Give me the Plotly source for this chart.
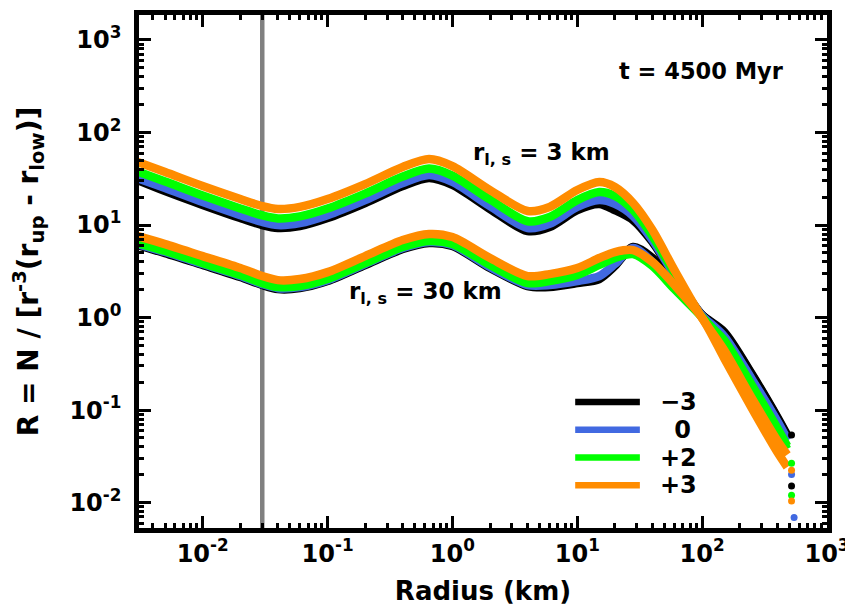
import plotly.graph_objects as go

# ---------------- data ----------------
radius_km = [0.003, 0.005, 0.01, 0.02, 0.03, 0.04, 0.06, 0.1, 0.2, 0.4, 0.65, 1, 2, 4, 6,
             10, 15, 20, 28, 40, 60, 100, 150, 250, 400, 480]

# r_l,s = 3 km group
r3_m3 = [30.7, 23.3, 16.5, 11.9, 10.0, 9.29, 9.75, 11.9, 17.3, 26.4, 32.2, 27.1, 14.9, 8.61, 9.51,
         14.5, 16.9, 14.5, 11.3, 6.55, 2.81, 1.06, 0.68, 0.24, 0.082, 0.052]
r3_0 = [32.2, 25.1, 17.7, 12.8, 10.8, 10.0, 10.5, 12.8, 18.6, 28.4, 34.7, 29.2, 16.0, 9.29, 10.3,
        15.7, 18.6, 16.9, 12.5, 6.88, 2.88, 1.04, 0.615, 0.21, 0.074, 0.047]
r3_p2 = [37.9, 29.5, 20.8, 15.1, 12.7, 11.8, 12.4, 15.1, 21.9, 33.4, 40.8, 34.3, 18.9, 11.0, 12.2,
         18.6, 22.7, 20.6, 14.5, 7.6, 3.03, 1.0, 0.57, 0.186, 0.064, 0.041]
r3_p3 = [48.0, 37.4, 26.4, 19.1, 16.0, 14.9, 15.7, 19.1, 27.7, 42.4, 51.7, 43.4, 23.9, 14.2, 15.7,
         23.9, 29.2, 25.8, 17.3, 8.83, 3.26, 0.99, 0.445, 0.135, 0.047, 0.033]

# r_l,s = 30 km group
r30_m3 = [6.08, 4.98, 3.70, 2.74, 2.25, 2.03, 2.08, 2.48, 3.70, 5.50, 6.39, 5.93, 3.43, 2.19, 2.14,
          2.36, 2.61, 3.61, 5.78, 4.40, 2.25, 1.06, 0.70, 0.245, 0.084, 0.0537]
r30_0 = [6.23, 5.11, 3.79, 2.81, 2.30, 2.08, 2.14, 2.54, 3.79, 5.64, 6.55, 6.08, 3.52, 2.25, 2.25,
         2.48, 2.81, 3.79, 5.64, 3.98, 2.08, 1.04, 0.63, 0.216, 0.076, 0.0486]
r30_p2 = [6.39, 5.24, 3.88, 2.88, 2.36, 2.14, 2.19, 2.61, 3.88, 5.78, 6.71, 6.23, 3.70, 2.36, 2.48,
          2.88, 3.70, 4.40, 4.86, 3.61, 2.03, 1.01, 0.54, 0.173, 0.059, 0.038]
r30_p3 = [7.60, 6.23, 4.62, 3.43, 2.81, 2.54, 2.61, 3.10, 4.62, 6.88, 8.00, 7.41, 4.40, 2.81, 2.95,
          3.43, 4.40, 5.11, 5.37, 3.98, 2.25, 0.99, 0.365, 0.105, 0.0352, 0.0242]

# isolated final points of each curve
end_radius_km = [520, 520, 520, 520]
end_r3 = [0.0151, 0.0202, 0.0120, 0.0104]      # -3, 0, +2, +3
end_radius30_km = [520, 545, 520, 520]
end_r30 = [0.054, 0.0069, 0.0267, 0.0224]

legend_labels = ["\u22123", "\u00a00", "+2", "+3"]
series_colors = ["#000000", "#4169E1", "#00FF00", "#FF8C00"]

cut_radius_km = 0.03

x_tick_vals = [0.01, 0.1, 1, 10, 100, 1000]
x_tick_text = ["10<sup>-2</sup>", "10<sup>-1</sup>", "10<sup>0</sup>", "10<sup>1</sup>",
               "10<sup>2</sup>", "10<sup>3</sup>"]
y_tick_vals = [0.01, 0.1, 1, 10, 100, 1000]
y_tick_text = ["10<sup>-2</sup>", "10<sup>-1</sup>", "10<sup>0</sup>", "10<sup>1</sup>",
               "10<sup>2</sup>", "10<sup>3</sup>"]

# ---------------- figure ----------------
FONT = "DejaVu Sans"
fig = go.Figure()

group3 = [r3_m3, r3_0, r3_p2, r3_p3]
group30 = [r30_m3, r30_0, r30_p2, r30_p3]

for i in range(4):
    for ys in (group3[i], group30[i]):
        fig.add_trace(go.Scatter(
            x=radius_km, y=ys, mode="lines",
            line=dict(color=series_colors[i], width=8.5, shape="spline", smoothing=0.8),
            showlegend=False, hoverinfo="skip"))

for i in range(4):
    fig.add_trace(go.Scatter(
        x=[end_radius_km[i], end_radius30_km[i]], y=[end_r3[i], end_r30[i]],
        mode="markers", marker=dict(color=series_colors[i], size=7),
        showlegend=False, hoverinfo="skip"))

# vertical reference line
fig.add_shape(type="line", xref="x", yref="paper", x0=cut_radius_km, x1=cut_radius_km,
              y0=0, y1=1, line=dict(color="#808080", width=4.5), layer="below")

# manual legend (long line keys)
leg_y = [0.2456, 0.1915, 0.1373, 0.0832]
for i in range(4):
    fig.add_shape(type="line", xref="paper", yref="paper", x0=0.634, x1=0.728,
                  y0=leg_y[i], y1=leg_y[i], line=dict(color=series_colors[i], width=6.5))
    fig.add_annotation(xref="paper", yref="paper", x=0.784, y=leg_y[i], text=legend_labels[i],
                       showarrow=False, xanchor="center", yanchor="middle",
                       font=dict(family=FONT, size=24, color="black", weight="bold"))

annot_font = dict(family=FONT, size=23, color="black", weight="bold")
fig.add_annotation(xref="paper", yref="paper", x=0.817, y=0.89, text="t = 4500 Myr",
                   showarrow=False, xanchor="center", yanchor="middle", font=dict(annot_font, size=22.5))
fig.add_annotation(xref="paper", yref="paper", x=0.585, y=0.73,
                   text="r<sub>l, s</sub> = 3 km", showarrow=False,
                   xanchor="center", yanchor="middle", font=annot_font)
fig.add_annotation(xref="paper", yref="paper", x=0.417, y=0.458,
                   text="r<sub>l, s</sub> = 30 km", showarrow=False,
                   xanchor="center", yanchor="middle", font=annot_font)

minor_x = [m * 10 ** e for e in range(-3, 3) for m in range(2, 10)]
minor_y = [m * 10 ** e for e in range(-3, 3) for m in range(2, 10)]

axis_common = dict(
    type="log", showgrid=False, zeroline=False,
    showline=True, linecolor="black", linewidth=4.5, mirror="allticks",
    ticks="inside", ticklen=12, tickwidth=3, tickcolor="black",
    tickfont=dict(family=FONT, size=24, color="black", weight="bold"),
)

fig.update_xaxes(
    **axis_common, range=[-2.51, 3.0], tickmode="array", tickvals=x_tick_vals, ticktext=x_tick_text,
    minor=dict(tickmode="array", tickvals=minor_x, ticks="inside", ticklen=5, tickwidth=2.5,
               tickcolor="black", showgrid=False),
    title=dict(text="Radius (km)", font=dict(family=FONT, size=26, color="black", weight="bold"),
               standoff=17),
)
fig.update_yaxes(
    **axis_common, range=[-2.274, 3.27], tickmode="array", tickvals=y_tick_vals, ticktext=y_tick_text,
    minor=dict(tickmode="array", tickvals=minor_y, ticks="inside", ticklen=5, tickwidth=2.5,
               tickcolor="black", showgrid=False),
    ticklabelstandoff=8,
    title=dict(text="R = N / [r<sup>-3</sup>(r<sub>up</sub> - r<sub>low</sub>)]",
               font=dict(family=FONT, size=28, color="black", weight="bold"), standoff=28),
)

# page body has an 8px default margin: size the figure so it fits the 853x608 window
fig.update_layout(
    width=845, height=600,
    margin=dict(l=131, r=26, t=7, b=80, autoexpand=False),
    plot_bgcolor="white", paper_bgcolor="white",
    showlegend=False,
)

fig.write_html("out.html")
